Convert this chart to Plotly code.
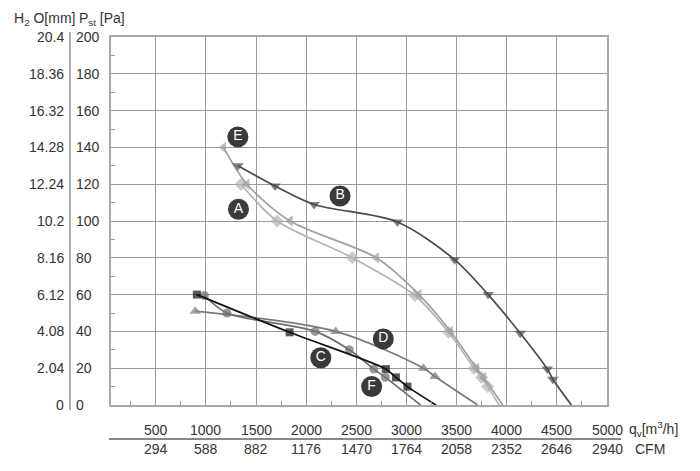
import plotly.graph_objects as go

# fan curves, qv [m3/h] vs static pressure [Pa]
A_x = [1350, 1710, 2460, 3085, 3420, 3675, 3750, 3810, 3925]
A_y = [120, 100, 80, 59.5, 39.5, 20, 15, 10, 0]
B_x = [1320, 1690, 2080, 2910, 3480, 3815, 4135, 4405, 4460, 4645]
B_y = [130, 119, 109, 99.5, 79, 60, 39, 19.5, 14, 0]
C_x = [910, 1835, 2795, 2895, 3010, 3295]
C_y = [60, 39.5, 19.5, 15, 10, 0]
D_x = [895, 2295, 3170, 3285, 3710]
D_y = [51, 40, 20, 15.5, 0]
E_x = [1175, 1410, 1840, 2700, 3125, 3440, 3700, 3770, 3960]
E_y = [140, 120, 100, 80, 60, 40, 20, 15, 0]
F_x = [985, 1210, 2090, 2430, 2675, 2790, 3140]
F_y = [59.5, 50, 40, 30, 19.5, 15, 0]

# axis labels
pa_ticks = [0, 20, 40, 60, 80, 100, 120, 140, 160, 180, 200]
h2o_labels = ["0", "2.04", "4.08", "6.12", "8.16", "10.2", "12.24", "14.28", "16.32", "18.36", "20.4"]
qv_ticks = [500, 1000, 1500, 2000, 2500, 3000, 3500, 4000, 4500, 5000]
cfm_labels = ["294", "588", "882", "1176", "1470", "1764", "2058", "2352", "2646", "2940"]

# curve letter badges
badge_names = ["E", "B", "A", "D", "C", "F"]
badge_x = [1319, 2338, 1325, 2769, 2146, 2653]
badge_y = [145.7, 113.6, 106.4, 35.9, 25.7, 10.0]

# page offsets the figure by the body margin, so compensate
OFF = 8
W, H = 700, 471
PL, PT, PR, PB = 111, 37, 607, 405  # plot box in screen pixels
PW, PH = PR - PL, PB - PT
L, T = PL - OFF, PT - OFF
R, B = W - L - PW, H - T - PH


def px_x(px):
    return (px - PL) / PW


def px_y(py):
    return (PB - py) / PH


fig = go.Figure()

curves = [
    (A_x, A_y, "#b4b4b4", "diamond", 10),
    (E_x, E_y, "#a0a0a0", "triangle-left", 10),
    (B_x, B_y, "#4a4a4a", "triangle-down", 10),
    (D_x, D_y, "#7a7a7a", "triangle-up", 10),
    (F_x, F_y, "#6e6e6e", "circle", 9),
    (C_x, C_y, "#111111", "square", 8),
]
for xs, ys, col, sym, sz in curves:
    sizes = [sz] * (len(xs) - 1) + [0]
    fig.add_trace(go.Scatter(
        x=xs, y=ys, mode="lines+markers",
        line=dict(color=col, width=1.7, shape="spline", smoothing=0.85),
        marker=dict(symbol=sym, size=sizes, color=col, line=dict(width=0)),
        hoverinfo="skip", showlegend=False, cliponaxis=True,
    ))

fig.add_trace(go.Scatter(
    x=badge_x, y=badge_y, mode="markers+text", text=badge_names,
    textposition="middle center",
    textfont=dict(color="white", size=14, family="Liberation Sans"),
    marker=dict(size=21, color="#3a3a3a"),
    hoverinfo="skip", showlegend=False,
))

ann = []
for v, lab in zip(pa_ticks, h2o_labels):
    ann.append(dict(x=px_x(66), y=v, xref="paper", yref="y", text=lab,
                    xanchor="right", yanchor="middle", showarrow=False))
    ann.append(dict(x=px_x(74), y=v, xref="paper", yref="y", text=str(v),
                    xanchor="left", yanchor="middle", showarrow=False))
for v, lab in zip(qv_ticks, cfm_labels):
    ann.append(dict(x=v, y=px_y(430), xref="x", yref="paper", text=str(v),
                    xanchor="center", yanchor="middle", showarrow=False))
    ann.append(dict(x=v, y=px_y(449), xref="x", yref="paper", text=lab,
                    xanchor="center", yanchor="middle", showarrow=False))

ann.append(dict(x=px_x(627), y=px_y(429), xref="paper", yref="paper",
                text="q<sub>v</sub>[m<sup>3</sup>/h]", xanchor="left",
                yanchor="middle", showarrow=False))
ann.append(dict(x=px_x(633), y=px_y(449), xref="paper", yref="paper",
                text="CFM", xanchor="left", yanchor="middle", showarrow=False))
ann.append(dict(x=px_x(12), y=px_y(19), xref="paper", yref="paper",
                text="H<sub>2</sub> O[mm]", xanchor="left",
                yanchor="middle", showarrow=False))
ann.append(dict(x=px_x(77), y=px_y(19), xref="paper", yref="paper",
                text="P<sub>st</sub> [Pa]", xanchor="left",
                yanchor="middle", showarrow=False))

shapes = [
    dict(type="line", xref="paper", yref="paper",
         x0=px_x(70), x1=px_x(70), y0=px_y(32), y1=px_y(410),
         line=dict(color="#555", width=1)),
    dict(type="line", xref="paper", yref="paper",
         x0=px_x(109), x1=px_x(621), y0=px_y(439), y1=px_y(439),
         line=dict(color="#888", width=2)),
]

fig.update_layout(
    width=W, height=H,
    margin=dict(l=L, r=R, t=T, b=B),
    paper_bgcolor="white", plot_bgcolor="white",
    font=dict(family="Liberation Sans", size=14, color="#333"),
    annotations=ann, shapes=shapes,
    xaxis=dict(range=[54, 5000], dtick=500, tick0=0, showgrid=True,
               gridcolor="#9a9a9a", gridwidth=1, showticklabels=False,
               ticks="", zeroline=False, showline=True, mirror=True,
               linecolor="#a8a8a8", linewidth=2,
               minor=dict(dtick=250, tick0=0, ticks="inside", ticklen=4,
                          tickcolor="#999", showgrid=False)),
    yaxis=dict(range=[0, 200], dtick=20, showgrid=True,
               gridcolor="#9a9a9a", gridwidth=1, showticklabels=False,
               ticks="", zeroline=False, showline=True, mirror=True,
               linecolor="#a8a8a8", linewidth=2,
               minor=dict(dtick=10, ticks="inside", ticklen=4,
                          tickcolor="#999", showgrid=False)),
)

fig.write_html("out.html")
